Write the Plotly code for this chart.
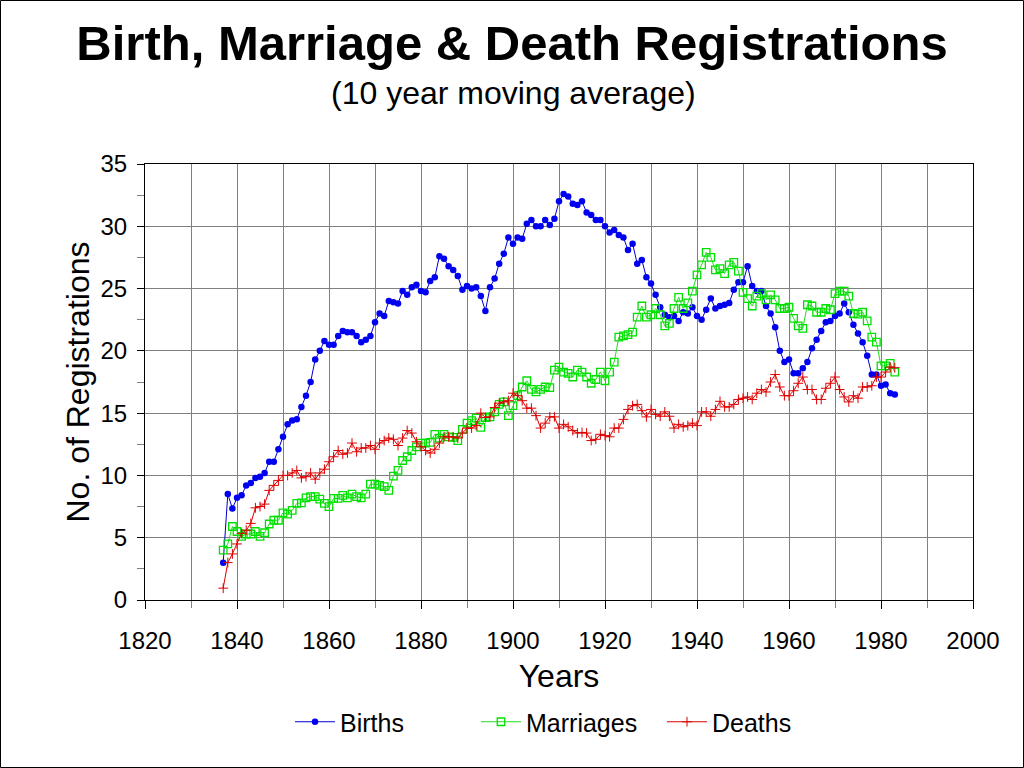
import plotly.graph_objects as go

years = list(range(1837, 1984))

births = [
    3.0, 8.5, 7.35, 8.2, 8.4, 9.2, 9.4, 9.8, 9.9, 10.2,          # 1837-1846
    11.1, 11.1, 12.1, 13.1, 14.1, 14.4, 14.5, 15.5, 16.4, 17.5,  # 1847-1856
    19.3, 20.0, 20.8, 20.5, 20.5, 21.2, 21.6, 21.5, 21.5, 21.2,  # 1857-1866
    20.7, 20.9, 21.2, 22.3, 23.0, 22.8, 24.0, 23.9, 23.8, 24.8,  # 1867-1876
    24.5, 25.1, 25.3, 24.8, 24.7, 25.6, 25.9, 27.6, 27.4, 26.8,  # 1877-1886
    26.5, 26.0, 24.9, 25.2, 25.0, 25.1, 24.4, 23.2, 25.1, 25.8,  # 1887-1896
    27.0, 27.8, 29.1, 28.6, 29.1, 29.0, 30.2, 30.5, 30.0, 30.0,  # 1897-1906
    30.5, 30.1, 30.6, 32.0, 32.6, 32.4, 31.8, 31.7, 32.0, 31.1,  # 1907-1916
    30.9, 30.5, 30.5, 30.0, 29.5, 29.7, 29.3, 29.1, 28.1, 28.6,  # 1917-1926
    27.0, 27.3, 25.9, 25.4, 24.5, 23.5, 22.9, 22.7, 22.8, 22.4,  # 1927-1936
    23.1, 23.0, 23.5, 22.8, 22.5, 23.3, 24.2, 23.4, 23.6, 23.7,  # 1937-1946
    23.85, 24.9, 25.5, 25.5, 26.8, 25.2, 24.8, 24.8, 23.6, 23.0, # 1947-1956
    21.9, 20.0, 19.1, 19.3, 18.2, 18.2, 18.6, 19.1, 20.2, 20.9,  # 1957-1966
    21.6, 22.3, 22.4, 22.8, 23.0, 23.8, 23.1, 22.1, 21.4, 20.7,  # 1967-1976
    19.6, 18.1, 18.1, 17.2, 17.3, 16.6, 16.5,                    # 1977-1983
]

marriages = [
    4.0, 4.5, 5.9, 5.5, 5.1, 5.3, 5.3, 5.5, 5.1, 5.4,            # 1837-1846
    6.1, 6.4, 6.4, 7.0, 6.9, 7.2, 7.75, 7.8, 8.2, 8.3,           # 1847-1856
    8.3, 8.1, 7.75, 7.5, 8.15, 8.15, 8.4, 8.2, 8.5, 8.3,         # 1857-1866
    8.2, 8.5, 9.3, 9.3, 9.2, 9.1, 8.8, 9.95, 10.4, 11.2,         # 1867-1876
    11.5, 12.0, 12.3, 12.6, 12.6, 12.65, 13.3, 13.0, 13.3, 13.1, # 1877-1886
    13.05, 12.8, 13.7, 14.2, 14.4, 14.6, 13.85, 14.65, 14.7, 15.1,  # 1887-1896
    15.7, 15.9, 14.8, 15.6, 16.4, 17.1, 17.6, 16.9, 16.7, 16.9,  # 1897-1906
    17.1, 17.05, 18.45, 18.7, 18.3, 18.2, 17.9, 18.45, 18.3, 17.9,  # 1907-1916
    17.4, 17.7, 18.3, 17.6, 18.3, 19.1, 21.1, 21.2, 21.3, 21.5,  # 1917-1926
    22.7, 23.6, 22.7, 22.9, 23.4, 22.9, 22.0, 22.2, 23.4, 24.3,  # 1927-1936
    23.4, 23.85, 24.8, 26.1, 26.9, 27.9, 27.5, 26.5, 26.6, 26.2, # 1937-1946
    26.9, 27.1, 26.4, 24.7, 24.2, 23.6, 24.4, 24.6, 24.1, 24.5,  # 1947-1956
    24.1, 23.4, 23.4, 23.5, 22.6, 22.0, 21.8, 23.7, 23.6, 23.1,  # 1957-1966
    23.1, 23.4, 23.3, 24.6, 24.8, 24.8, 24.4, 23.0, 22.95, 23.1, # 1967-1976
    22.4, 21.1, 20.7, 18.8, 18.8, 19.0, 18.3,                    # 1977-1983
]

deaths = [
    0.95, 3.0, 3.7, 4.5, 5.35, 5.6, 6.15, 7.4, 7.5, 7.7,         # 1837-1846
    8.8, 9.2, 9.6, 10.0, 10.0, 10.2, 10.4, 9.8, 9.9, 10.2,       # 1847-1856
    9.7, 10.2, 10.5, 11.1, 11.5, 12.0, 11.7, 11.8, 12.6, 11.9,   # 1857-1866
    12.2, 12.2, 12.4, 12.1, 12.6, 12.8, 13.0, 12.9, 12.4, 13.0,  # 1867-1876
    13.6, 13.4, 12.7, 12.3, 12.0, 11.8, 12.1, 12.6, 13.1, 13.1,  # 1877-1886
    13.1, 13.0, 13.4, 13.8, 13.8, 14.0, 15.0, 14.65, 14.7, 15.45,  # 1887-1896
    15.8, 15.9, 16.0, 16.6, 16.4, 16.0, 15.4, 15.4, 14.8, 13.8,  # 1897-1906
    14.2, 14.7, 14.7, 13.8, 14.1, 13.9, 13.6, 13.4, 13.45, 13.4, # 1907-1916
    12.8, 12.9, 13.3, 13.2, 13.1, 13.8, 13.8, 14.5, 15.3, 15.6,  # 1917-1926
    15.7, 15.2, 14.7, 15.3, 14.9, 14.75, 15.1, 14.75, 13.8, 14.1,  # 1927-1936
    13.9, 14.0, 14.2, 14.0, 15.1, 15.1, 14.75, 15.3, 15.95, 15.5,  # 1937-1946
    15.5, 15.7, 16.1, 16.2, 16.3, 16.1, 16.6, 16.9, 16.7, 17.5,  # 1947-1956
    18.1, 17.1, 16.4, 16.4, 16.8, 17.4, 17.9, 16.9, 16.9, 16.1,  # 1957-1966
    16.1, 17.0, 17.4, 17.9, 16.9, 16.3, 15.9, 16.4, 16.2, 17.1,  # 1967-1976
    17.1, 17.2, 17.9, 17.9, 18.3, 18.7, 18.65,                   # 1977-1983
]

x_ticks = [1820, 1840, 1860, 1880, 1900, 1920, 1940, 1960, 1980, 2000]
y_ticks = [0, 5, 10, 15, 20, 25, 30, 35]

FONT = "Liberation Sans, Arial, sans-serif"

fig = go.Figure()
fig.add_trace(go.Scatter(
    x=years, y=births, name="Births", mode="lines+markers",
    line=dict(color="#0000d0", width=1),
    marker=dict(symbol="circle", size=6.5, color="#0000f0"),
))
fig.add_trace(go.Scatter(
    x=years, y=marriages, name="Marriages", mode="lines+markers",
    line=dict(color="#22dd22", width=1),
    marker=dict(symbol="square-open", size=7.5, color="#00e000", line=dict(width=1.3)),
))
fig.add_trace(go.Scatter(
    x=years, y=deaths, name="Deaths", mode="lines+markers",
    line=dict(color="#dd0000", width=1),
    marker=dict(symbol="cross-thin-open", size=7, color="#dd0000", line=dict(width=1, color="#dd0000")),
))

L, R, T, B = 145, 51, 164, 168
W, H = 1024, 768
pw, ph = W - L - R, H - T - B

fig.update_layout(
    width=W, height=H,
    margin=dict(l=L, r=R, t=T, b=B, pad=0),
    paper_bgcolor="white", plot_bgcolor="white",
    font=dict(family=FONT, color="black", size=24),
    title=dict(
        text="<b>Birth, Marriage & Death Registrations</b>",
        font=dict(family=FONT, size=49, color="black"),
        x=512 / W, xanchor="center", xref="container",
        y=1 - 43 / H, yanchor="middle", yref="container",
    ),
    showlegend=True,
    legend=dict(
        orientation="h", x=(290 - L) / pw, xanchor="left",
        y=(600 - 722) / ph, yanchor="middle",
        font=dict(family=FONT, size=25, color="black"),
        bgcolor="rgba(0,0,0,0)", entrywidth=131, itemwidth=40,
    ),
    xaxis=dict(
        range=[1820, 2000], tickvals=x_ticks, ticks="outside", ticklen=8,
        tickcolor="black", showgrid=True, gridcolor="#808080", gridwidth=1,
        minor=dict(dtick=10, tick0=1820, showgrid=True, gridcolor="#808080",
                   ticks="outside", ticklen=7, tickcolor="#808080"),
        showline=True, linecolor="black", linewidth=1, mirror=True,
        zeroline=False, ticklabelstandoff=11,
        tickfont=dict(family=FONT, size=24),
        title=dict(text="Years", font=dict(family=FONT, size=32), standoff=11),
    ),
    yaxis=dict(
        range=[0, 35], tickvals=y_ticks, ticks="outside", ticklen=7,
        tickcolor="black", showgrid=True, gridcolor="#808080", gridwidth=1,
        minor=dict(dtick=2.5, tick0=0, showgrid=False, ticks="outside",
                   ticklen=7, tickcolor="#808080"),
        showline=True, linecolor="black", linewidth=1, mirror=True,
        zeroline=False, ticklabelstandoff=5,
        tickfont=dict(family=FONT, size=24),
        title=dict(text="No. of Registrations", font=dict(family=FONT, size=32), standoff=1),
    ),
    annotations=[dict(
        text="(10 year moving average)", showarrow=False,
        xref="paper", yref="paper", x=(513 - L) / pw, y=(600 - 93) / ph,
        xanchor="center", yanchor="middle",
        font=dict(family=FONT, size=32, color="black"),
    )],
    shapes=[dict(
        type="rect", xref="paper", yref="paper", layer="above",
        x0=(0.5 - L) / pw, x1=(W - 0.5 - L) / pw,
        y0=(600 - (H - 0.5)) / ph, y1=(600 - 0.5) / ph,
        line=dict(color="black", width=1), fillcolor="rgba(0,0,0,0)",
    )],
)

fig.write_html("out.html")
